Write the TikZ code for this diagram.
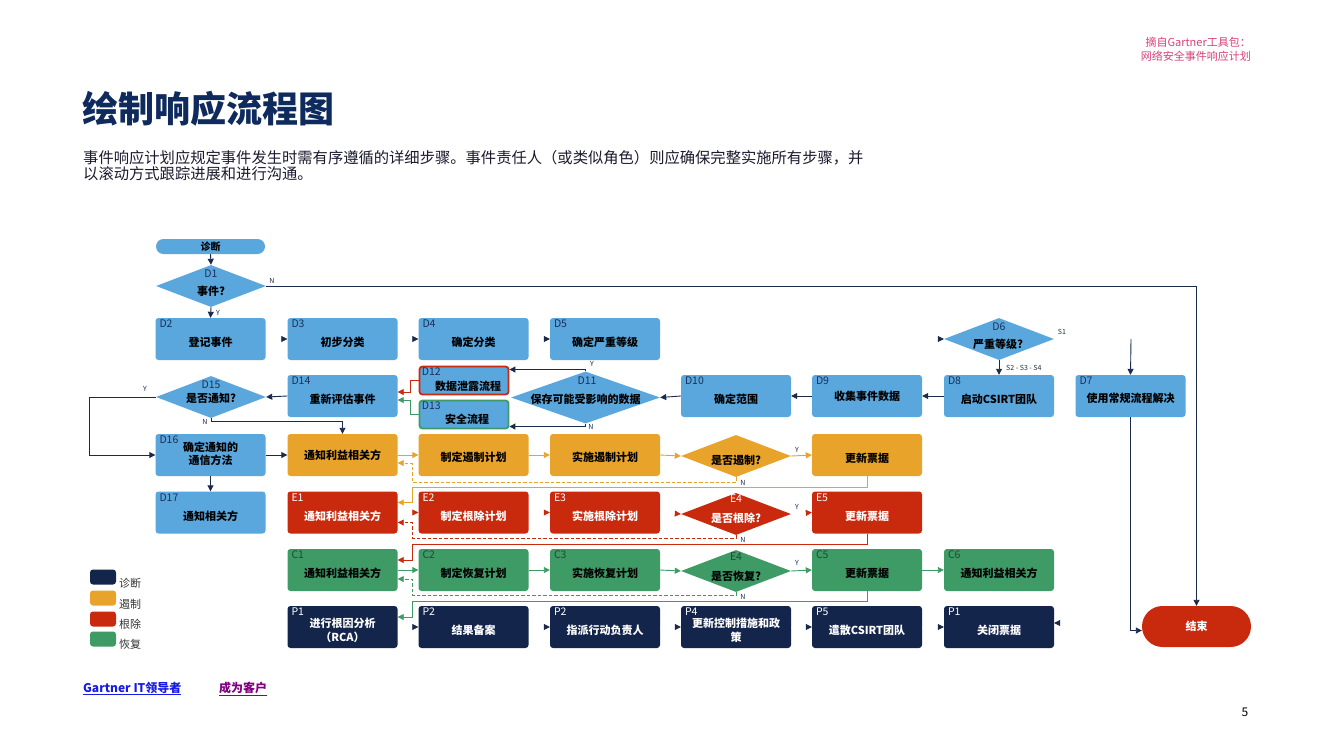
\documentclass[tikz,border=0pt]{standalone}
\usepackage{fontspec}
\setmainfont{Noto Sans CJK SC}
\usetikzlibrary{shapes.geometric,arrows.meta,calc}
\definecolor{bl}{HTML}{5AA7DD}
\definecolor{orc}{HTML}{E8A42A}
\definecolor{rdc}{HTML}{C92A0E}
\definecolor{grc}{HTML}{3E9B66}
\definecolor{nvc}{HTML}{13254B}
\definecolor{lnc}{HTML}{1B2A4A}
\definecolor{pkc}{HTML}{D9407A}
\definecolor{ttl}{HTML}{0F2A5C}
\definecolor{lblc}{HTML}{1D2F5A}
\definecolor{grl}{HTML}{1F4A33}
\definecolor{sub}{HTML}{1B1B2F}
\definecolor{lnk}{HTML}{1A1AE6}
\definecolor{lnkp}{HTML}{800080}
\tikzset{
 boxs/.style={rectangle, rounded corners=3pt, minimum width=110pt, minimum height=42pt, inner sep=0pt, draw=none},
 dias/.style={diamond, minimum width=110pt, minimum height=42pt, inner sep=0pt, draw=none},
 lbl/.style={font=\fontsize{10.5}{11}\selectfont, inner sep=0pt},
 txt/.style={font=\fontsize{11}{13.5}\selectfont\bfseries, inner sep=0pt, align=center},
 tag/.style={font=\fontsize{7}{8}\selectfont, inner sep=0pt, text=lnc},
 ar/.style={draw=lnc, line width=0.9pt, -{Triangle[length=6pt,width=6pt]}},
 arO/.style={draw=orc, line width=0.9pt, -{Triangle[length=6pt,width=6pt]}},
 arR/.style={draw=rdc, line width=0.9pt, -{Triangle[length=6pt,width=6pt]}},
 arG/.style={draw=grc, line width=0.9pt, -{Triangle[length=6pt,width=6pt]}},
 ghost/.style={draw=white, line width=0.5pt, -{Triangle[length=6pt,width=6pt,color=#1]}},
 dsh/.style={dash pattern=on 3.5pt off 2pt},
 leg/.style={rounded corners=3pt, minimum width=26pt, minimum height=15pt, inner sep=0pt},
 legt/.style={anchor=west, font=\fontsize{11}{12}\selectfont, text=black!80, inner sep=0pt},
}
% #1 text shift, #2 name, #3 pos, #4 fill, #5 label, #6 label colour, #7 text colour, #8 text
\newcommand\mkbox[8][-3.5pt]{%
 \node[boxs, fill=#4] (#2) at #3 {};
 \node[lbl, text=#6, anchor=north west] at ([xshift=4pt,yshift=-2pt]#2.north west) {#5};
 \node[txt, text=#7] at ([yshift=#1]#2.center) {#8};}
\begin{document}
\begin{tikzpicture}[x=1pt,y=-1pt]
\fill[white] (0,0) rectangle (1333,750);
\useasboundingbox (0,0) rectangle (1333,750);

% header
\node[anchor=base east, text=pkc, font=\fontsize{11}{12}\selectfont, inner sep=0pt] (h1) at (1251,46) {摘自Gartner工具包：};
\node[anchor=base east, text=pkc, font=\fontsize{11}{12}\selectfont, inner sep=0pt] (h2) at (1251,60) {网络安全事件响应计划};
\node[anchor=base west, text=ttl, font=\fontsize{36}{42}\selectfont\bfseries, inner sep=0pt] (title) at (82,122) {绘制响应流程图};
\node[anchor=base west, text=sub, font=\fontsize{15.3}{16}\selectfont, inner sep=0pt] (s1t) at (83,163) {事件响应计划应规定事件发生时需有序遵循的详细步骤。事件责任人（或类似角色）则应确保完整实施所有步骤，并};
\node[anchor=base west, text=sub, font=\fontsize{15.3}{16}\selectfont, inner sep=0pt] (s2t) at (83,179) {以滚动方式跟踪进展和进行沟通。};

% start pill
\node[fill=bl, rounded corners=7.5pt, minimum width=109pt, minimum height=15pt, inner sep=0pt] (zd) at (210.5,246.5) {};
\node[txt, font=\fontsize{10}{12}\selectfont\bfseries] at (zd.center) {诊断};

% D1
\node[dias, fill=bl] (D1) at (211,286) {};
\node[lbl, text=lblc] at (211,274) {D1};
\node[txt] at (211,291) {事件?};

% row A
\mkbox{D2}{(210.5,339)}{bl}{D2}{lblc}{black}{登记事件}
\mkbox{D3}{(342.5,339)}{bl}{D3}{lblc}{black}{初步分类}
\mkbox{D4}{(473.5,339)}{bl}{D4}{lblc}{black}{确定分类}
\mkbox{D5}{(605,339)}{bl}{D5}{lblc}{black}{确定严重等级}
\node[dias, fill=bl] (D6) at (999,339) {};
\node[lbl, text=lblc] at (999,327) {D6};
\node[txt] at (998,344) {严重等级?};

% row B
\mkbox{D14}{(342.5,396)}{bl}{D14}{lblc}{black}{重新评估事件}
\node[dias, fill=bl] (D15) at (211,397) {};
\node[lbl, text=lblc] at (211,385) {D15};
\node[txt] at (211,398) {是否通知?};
\node[boxs, fill=bl, draw=rdc, line width=1.8pt, minimum width=89pt, minimum height=28pt] (D12) at (464,380.5) {};
\node[lbl, text=lblc, anchor=north west] at ([xshift=3pt,yshift=-2pt]D12.north west) {D12};
\node[txt] at (468,386) {数据泄露流程};
\node[boxs, fill=bl, draw=grc, line width=1.8pt, minimum width=89pt, minimum height=28pt] (D13) at (464,414.5) {};
\node[lbl, text=lblc, anchor=north west] at ([xshift=3pt,yshift=-2pt]D13.north west) {D13};
\node[txt] at (467,419) {安全流程};
\node[dias, fill=bl, minimum width=149pt, minimum height=52pt] (D11) at (585.5,397.5) {};
\node[lbl, text=lblc] at (587,381) {D11};
\node[txt] at (585.5,399) {保存可能受影响的数据};
\mkbox{D10}{(736,396)}{bl}{D10}{lblc}{black}{确定范围}
\mkbox[0pt]{D9}{(867,396)}{bl}{D9}{lblc}{black}{收集事件数据}
\mkbox{D8}{(999,396)}{bl}{D8}{lblc}{black}{启动CSIRT团队}
\mkbox[-2pt]{D7}{(1130.5,396)}{bl}{D7}{lblc}{black}{使用常规流程解决}

% row C (containment)
\mkbox[1pt]{D16}{(210.5,455)}{bl}{D16}{lblc}{black}{确定通知的\\通信方法}
\mkbox[0pt]{O1}{(342.5,455)}{orc}{}{orc}{black}{通知利益相关方}
\mkbox[-2pt]{O2}{(473.5,455)}{orc}{}{orc}{black}{制定遏制计划}
\mkbox[-2pt]{O3}{(605,455)}{orc}{}{orc}{black}{实施遏制计划}
\node[dias, fill=orc] (OD) at (736,456) {};
\node[txt] at (736,460) {是否遏制?};
\mkbox[-3pt]{O5}{(867,455)}{orc}{}{orc}{black}{更新票据}

% row D (eradication)
\mkbox{D17}{(210.5,512.5)}{bl}{D17}{lblc}{black}{通知相关方}
\mkbox{E1}{(342.5,512.5)}{rdc}{E1}{white}{white}{通知利益相关方}
\mkbox{E2}{(473.5,512.5)}{rdc}{E2}{white}{white}{制定根除计划}
\mkbox{E3}{(605,512.5)}{rdc}{E3}{white}{white}{实施根除计划}
\node[dias, fill=rdc] (RD) at (736,514) {};
\node[lbl, text=white] at (736,499) {E4};
\node[txt, text=white] at (736,518) {是否根除?};
\mkbox{E5}{(867,512.5)}{rdc}{E5}{white}{white}{更新票据}

% row E (recovery)
\mkbox{C1}{(342.5,570)}{grc}{C1}{grl}{black}{通知利益相关方}
\mkbox{C2}{(473.5,570)}{grc}{C2}{grl}{black}{制定恢复计划}
\mkbox{C3}{(605,570)}{grc}{C3}{grl}{black}{实施恢复计划}
\node[dias, fill=grc] (GD) at (736,571) {};
\node[lbl, text=grl] at (736,557) {E4};
\node[txt] at (736,576) {是否恢复?};
\mkbox{C5}{(867,570)}{grc}{C5}{grl}{black}{更新票据}
\mkbox{C6}{(999,570)}{grc}{C6}{grl}{black}{通知利益相关方}

% row F (post-incident)
\mkbox[-3.5pt]{P1}{(342.5,627)}{nvc}{P1}{white}{white}{进行根因分析\\（RCA）}
\mkbox{P2}{(473.5,627)}{nvc}{P2}{white}{white}{结果备案}
\mkbox{P3}{(605,627)}{nvc}{P2}{white}{white}{指派行动负责人}
\mkbox[-3.5pt]{P4}{(736,627)}{nvc}{P4}{white}{white}{更新控制措施和政\\策}
\mkbox{P5}{(867,627)}{nvc}{P5}{white}{white}{遣散CSIRT团队}
\mkbox{P6}{(999,627)}{nvc}{P1}{white}{white}{关闭票据}

% end pill
\node[fill=rdc, rounded corners=20.5pt, minimum width=109pt, minimum height=41pt, inner sep=0pt] (End) at (1196.5,626.5) {};
\node[txt, text=white] at (End.center) {结束};

\coordinate (s1) at (1131,339);

% connectors whose line is not shown (tips only)
\draw[ghost=lnc] (D2.east) -- (D3.west);
\draw[ghost=lnc] (D3.east) -- (D4.west);
\draw[ghost=lnc] (D4.east) -- (D5.west);
\draw[ghost=lnc] (D5.east) -- (D6.west);
\draw[ghost=rdc] (E1.east) -- (E2.west);
\draw[ghost=rdc] (E2.east) -- (E3.west);
\draw[ghost=rdc] (E3.east) -- (RD.west);
\draw[ghost=rdc] (RD.east) -- (E5.west);
\draw[ghost=lnc] (P1.east) -- (P2.west);
\draw[ghost=lnc] (P2.east) -- (P3.west);
\draw[ghost=lnc] (P3.east) -- (P4.west);
\draw[ghost=lnc] (P4.east) -- (P5.west);
\draw[ghost=lnc] (P5.east) -- (P6.west);
\draw[ghost=lnc] ([yshift=4pt]End.west) -- ([yshift=4pt]P6.east);

% diagnosis connectors
\draw[ar] (zd.south) -- (D1.north);
\draw[ar] (D1.south) -- (D2.north);
\draw[ar] (D1.east) -| (End.north);
\draw[ar] (D6.south) -- (D8.north);
\draw[ar] (s1) -- (D7.north);
\draw[ar] (D7.south) |- ([yshift=-4pt]End.west);
\draw[ar] (D8.west) -- (D9.east);
\draw[ar] (D9.west) -- (D10.east);
\draw[ar] (D10.west) -- (D11.east);
\draw[ar] (D11.north) |- ([yshift=11pt]D12.east);
\draw[ar] (D11.south) |- ([yshift=-12pt]D13.east);
\draw[arR] (D12.west) -- ++(-8,0) |- ([yshift=4pt]D14.east);
\draw[arG] (D13.west) -- ++(-8,0) |- ([yshift=-4pt]D14.east);
\draw[ar] (D14.west) -- (D15.east);
\draw[ar] (D15.west) -- ++(-66,0) |- (D16.west);
\draw[ar] (D15.south) -- ++(0,3) -| (O1.north);
\draw[ar] (D16.east) -- (O1.west);
\draw[ar] (D16.south) -- (D17.north);

% containment connectors
\draw[arO] (O1.east) -- (O2.west);
\draw[arO] (O2.east) -- (O3.west);
\draw[arO] (O3.east) -- (OD.west);
\draw[arO] (OD.east) -- (O5.west);
\draw[arO, dsh] (OD.south) |- ++(-324,5) |- ([yshift=-8pt]O1.east);
\draw[arO] (O5.south) |- ++(-455,11) |- ([yshift=10pt]E1.east);

% eradication connectors
\draw[arR, dsh] (RD.south) |- ++(-324,3) |- ([yshift=-10pt]E1.east);
\draw[arR] (E5.south) |- ++(-455,11) |- ([yshift=10pt]C1.east);

% recovery connectors
\draw[arG] (C1.east) -- (C2.west);
\draw[arG] (C2.east) -- (C3.west);
\draw[arG] (C3.east) -- (GD.west);
\draw[arG] (GD.east) -- (C5.west);
\draw[arG] (C5.east) -- (C6.west);
\draw[arG, dsh] (GD.south) |- ++(-324,3) |- ([yshift=-9pt]C1.east);
\draw[arG] (C5.south) |- ++(-455,10) |- ([yshift=10pt]P1.east);

% branch tags
\node[tag] at (272,281) {N};
\node[tag] at (218,313) {Y};
\node[tag] at (1062,332) {S1};
\node[tag, anchor=west] at (1006,368) {S2 - S3 - S4};
\node[tag] at (592,364) {Y};
\node[tag] at (591,427) {N};
\node[tag] at (145,389) {Y};
\node[tag] at (205,422) {N};
\node[tag] at (797,450) {Y};
\node[tag] at (743,483) {N};
\node[tag] at (797,507) {Y};
\node[tag] at (743,540) {N};
\node[tag] at (797,563) {Y};
\node[tag] at (743,597) {N};

% legend
\node[leg, fill=nvc] (L1) at (103,577) {};
\node[leg, fill=orc] (L2) at (103,598) {};
\node[leg, fill=rdc] (L3) at (103,619) {};
\node[leg, fill=grc] (L4) at (103,639) {};
\node[legt] at (119,583) {诊断};
\node[legt] at (119,604) {遏制};
\node[legt] at (119,624) {根除};
\node[legt] at (119,644) {恢复};

% links and page number
\node[anchor=base west, inner sep=0pt, text=lnk, font=\fontsize{12}{14}\selectfont\bfseries] (lk1) at (83,692) {\underline{Gartner IT领导者}};
\node[anchor=base west, inner sep=0pt, text=lnkp, font=\fontsize{12}{14}\selectfont\bfseries] (lk2) at (219,692) {\underline{成为客户}};
\node[anchor=base, inner sep=0pt, font=\fontsize{12}{14}\selectfont] (pg) at (1245,716) {5};
\end{tikzpicture}
\end{document}
